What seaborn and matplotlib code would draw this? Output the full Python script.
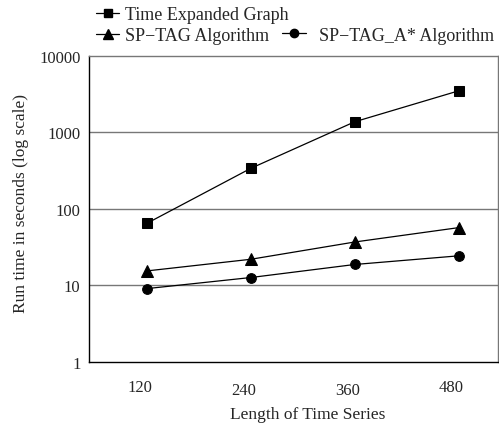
import numpy as np
import pandas as pd
import seaborn as sns
import matplotlib.pyplot as plt
from matplotlib.lines import Line2D

# Datos
lengths = ["120", "240", "360", "480"]
teg = [65, 340, 1380, 3500]
sptag = [15.5, 22, 37, 57]
sptag_astar = [9.1, 12.7, 18.8, 24.4]

series_names = ["Time Expanded Graph", "SP\u2212TAG Algorithm", "SP\u2212TAG_A* Algorithm"]
markers = ["s", "^", "o"]
msizes = [6.5, 8, 7]

data = pd.DataFrame({
    "pos": list(range(len(lengths))) * 3,
    "Tiempo": teg + sptag + sptag_astar,
    "Serie": np.repeat(series_names, len(lengths)),
})

sns.set_style("white")
plt.rcParams['font.family'] = ['Liberation Serif', 'DejaVu Serif']
plt.rcParams['font.size'] = 12

fig = plt.figure(figsize=(4.99, 4.27), dpi=100)
ax = fig.add_axes([0.178, 0.15, 0.82, 0.7165])

for name, m, ms in zip(series_names, markers, msizes):
    sub = data[data["Serie"] == name]
    sns.lineplot(data=sub, x="pos", y="Tiempo", ax=ax, color="black",
                 linewidth=0.9, marker=m, markersize=ms, markeredgecolor="black",
                 legend=False)

ax.set_yscale("log")
ax.set_ylim(1, 10000)
ax.set_yticks([1, 10, 100, 1000, 10000])
ax.set_yticklabels(["1", "10", "100", "1000", "10000"], fontsize=12)
ax.minorticks_off()
for v in [10, 100, 1000]:
    ax.axhline(v, color="#777777", linewidth=1.0, zorder=0)

ax.set_xlim(-0.56, 3.38)
ax.set_xticks([0.42, 1.42, 2.4, 3.38])
ax.set_xticklabels([])
ax.tick_params(axis="x", length=7, width=1, color="black", direction="out")
ax.tick_params(axis="y", length=0, pad=6)
# etiquetas de x un poco desalineadas como en el original
label_dy = [-0.083, -0.093, -0.091, -0.083]
for i, lab in enumerate(lengths):
    ax.text(i - 0.07, label_dy[i], lab, transform=ax.get_xaxis_transform(),
            ha="center", va="center", fontsize=12)

ax.set_xlabel("Length of Time Series", fontsize=12.5)
ax.xaxis.set_label_coords(0.535, -0.145)
ax.set_ylabel("Run time in seconds (log scale)", fontsize=12.5)
ax.yaxis.set_label_coords(-0.145, 0.52)

for s in ["left", "bottom"]:
    ax.spines[s].set_color("black")
    ax.spines[s].set_linewidth(1.0)
for s in ["top", "right"]:
    ax.spines[s].set_color("#777777")
    ax.spines[s].set_linewidth(1.0)

# leyenda en dos bloques, como en la figura original
leg_sizes = [5.5, 7.5, 6]
handles = [Line2D([], [], color="black", linewidth=0.9, marker=m, markersize=ms)
           for m, ms in zip(markers, leg_sizes)]
leg_kw = dict(frameon=False, fontsize=13, handlelength=1.3,
              labelspacing=0.2, borderaxespad=0.0, borderpad=0.0)
fig.legend(handles[:2], series_names[:2], loc="upper left", handletextpad=0.3,
           bbox_to_anchor=(0.192, 0.983), **leg_kw)
fig.legend(handles[2:], series_names[2:], loc="upper left", handletextpad=0.7,
           bbox_to_anchor=(0.566, 0.935), **leg_kw)

plt.savefig("out.png", dpi=100)
